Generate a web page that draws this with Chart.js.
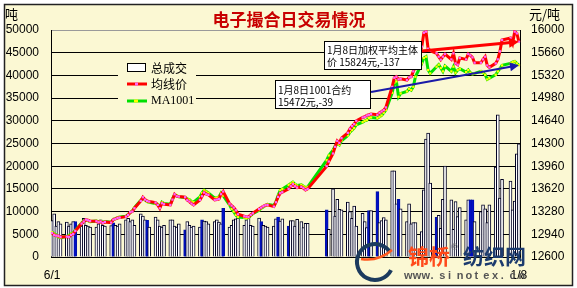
<!DOCTYPE html>
<html>
<head>
<meta charset="utf-8">
<script src="https://cdn.jsdelivr.net/npm/chart.js@4.4.0/dist/chart.umd.min.js"></script>
<style>
  html, body { margin: 0; padding: 0; background: #fff; }
  #wrap { width: 577px; height: 288px; }
</style>
</head>
<body>
<div id="wrap"><canvas id="myChart"></canvas></div>
<script>
// trading days (electronic market), 2009-06-01 .. 2010-01-08
const tradeDates = [
  "6/1","6/2","6/3","6/4","6/5","6/8","6/9","6/10","6/11","6/12","6/15","6/16","6/17","6/18","6/19","6/22","6/23","6/24","6/25","6/26","6/29","6/30",
  "7/1","7/2","7/3","7/6","7/7","7/8","7/9","7/10","7/13","7/14","7/15","7/16","7/17","7/20","7/21","7/22","7/23","7/24","7/27","7/28","7/29","7/30","7/31",
  "8/3","8/4","8/5","8/6","8/7","8/10","8/11","8/12","8/13","8/14","8/17","8/18","8/19","8/20","8/21","8/24","8/25","8/26","8/27","8/28","8/31",
  "9/1","9/2","9/3","9/4","9/7","9/8","9/9","9/10","9/11","9/14","9/15","9/16","9/17","9/18","9/21","9/22","9/23","9/24","9/25","9/27","9/28","9/29","9/30",
  "10/9","10/10","10/12","10/13","10/14","10/15","10/16","10/19","10/20","10/21","10/22","10/23","10/26","10/27","10/28","10/29","10/30",
  "11/2","11/3","11/4","11/5","11/6","11/9","11/10","11/11","11/12","11/13","11/16","11/17","11/18","11/19","11/20","11/23","11/24","11/25","11/26","11/27","11/30",
  "12/1","12/2","12/3","12/4","12/7","12/8","12/9","12/10","12/11","12/14","12/15","12/16","12/17","12/18","12/21","12/22","12/23","12/24","12/25","12/28","12/29","12/30","12/31",
  "1/4","1/5","1/6","1/7","1/8"
];

// 总成交 (吨)
const volume = [
  8000, 9500, 6800, 7800, 7300, 7700, 6800, 7300, 7800, 7800, 6800, 8500, 7000, 6800, 6600, 6600, 7300, 8200, 7000, 6800, 6900, 7500,
  7000, 6800, 7300, 8200, 8500, 7800, 8200, 7000, 9500, 9000, 8200, 8100, 6600, 8800, 8200, 6800, 6600, 7000, 8200, 8200, 6800, 6600, 7300,
  6000, 7800, 7000, 6600, 6800, 6600, 8200, 7900, 7800, 7300, 7800, 8200, 7700, 7300, 10700, 6600, 7000, 8200, 8400, 8600, 7000,
  8200, 8600, 7000, 6800, 8600, 7800, 7000, 6800, 6600, 6800, 8400, 8800, 7900, 8400, 6800, 8000, 8000, 6800, 8300, 7800, 6500, 7400, 7400,
  10400, 6100, 15000, 9000, 12700, 10500, 10400, 12100, 10000, 8500, 11200, 6800, 9600, 7800, 6500, 10200, 10200,
  14400, 7600, 8000, 8700, 8200, 19000, 19000, 11700, 12700, 10600, 7800, 11700, 7300, 7600, 7600, 5600, 14800, 26000, 27300, 16300, 8750,
  9200, 6300, 12700, 20000, 12600, 6100, 12200, 8900, 10900, 8200, 12600, 12600, 12600, 7800, 10000, 11500, 10600, 7600, 11500, 19800, 31300, 13000, 17100,
  16700, 10400, 12300, 22700, 24900
];

// 均线价 (元/吨)
const avgPrice = [
  12960, 12930, 12920, 12915, 12900, 12905, 12900, 12930, 12945, 12990, 13100, 13130, 13160, 13150, 13140, 13135, 13120, 13130, 13110, 13125, 13115, 13160,
  13170, 13185, 13190, 13205, 13230, 13270, 13280, 13330, 13440, 13495, 13460, 13440, 13430, 13415, 13380, 13330, 13405, 13390, 13380, 13460, 13540, 13510, 13505,
  13495, 13450, 13430, 13400, 13380, 13455, 13510, 13565, 13540, 13530, 13455, 13460, 13470, 13540, 13580, 13400, 13370, 13340, 13300, 13240, 13210,
  13205, 13200, 13230, 13255, 13320, 13340, 13360, 13375, 13380, 13355, 13420, 13500, 13555, 13570, 13620, 13660, 13690, 13660, 13640, 13650, 13630, 13605, 13620,
  13960, 14030, 14150, 14250, 14340, 14310, 14380, 14460, 14520, 14560, 14590, 14640, 14690, 14700, 14720, 14730, 14740,
  14730, 14760, 14780, 14800, 14840, 15150, 15285, 15300, 15260, 15270, 15250, 15290, 15300, 15380, 15450, 15750, 15960, 15975, 15720, 15690, 15650,
  15600, 15555, 15600, 15640, 15560, 15650, 15500, 15480, 15580, 15560, 15640, 15620, 15590, 15510, 15510, 15560, 15600, 15470, 15440, 15500, 15560, 15680, 15850,
  15880, 15800, 15975, 15950, 15824
];

// MA1001 (元/吨)
const ma1001 = [
  12970, 12950, 12930, 12900, 12890, 12910, 12920, 12950, 12960, 13000, 13110, 13140, 13150, 13145, 13130, 13140, 13130, 13135, 13120, 13130, 13120, 13165,
  13175, 13190, 13200, 13210, 13240, 13265, 13290, 13340, 13450, 13480, 13455, 13430, 13420, 13400, 13390, 13345, 13420, 13400, 13390, 13470, 13530, 13520, 13500,
  13490, 13470, 13460, 13430, 13420, 13500, 13560, 13600, 13580, 13560, 13480, 13490, 13500, 13560, 13520, 13380, 13320, 13280, 13230, 13200, 13190,
  13180, 13190, 13220, 13250, 13300, 13330, 13350, 13370, 13390, 13370, 13430, 13520, 13600, 13620, 13680, 13700, 13720, 13690, 13670, 13680, 13660, 13640, 13650,
  14050, 14120, 14200, 14260, 14300, 14280, 14340, 14420, 14470, 14500, 14530, 14580, 14620, 14640, 14650, 14680, 14690,
  14680, 14700, 14720, 14760, 14800, 15060, 15210, 15230, 15000, 15050, 15080, 15120, 15100, 15150, 15300, 15500, 15580, 15600, 15400, 15350, 15450,
  15480, 15430, 15380, 15460, 15380, 15450, 15360, 15400, 15420, 15370, 15400, 15360, 15340, 15350, 15380, 15360, 15330, 15260, 15280, 15330, 15380, 15420, 15470,
  15500, 15520, 15530, 15500, 15472
];

// days whose volume bar is drawn in blue
const blueDays = ["6/12","6/30","7/16","8/3","8/11","8/21","9/8","9/16","9/21","10/9","10/29","11/2","11/12","11/30","12/16","12/17"];

const leftTicks = [0, 5000, 10000, 15000, 20000, 25000, 30000, 35000, 40000, 45000, 50000];
const rightTicks = [12600, 12940, 13280, 13620, 13960, 14300, 14640, 14980, 15320, 15660, 16000];

const noteAvg = ["1月8日加权平均主体", "价 15824元,-137"];
const note1001 = ["1月8日1001合约", "15472元,-39"];

// calendar axis, one slot per day
const labels = [];
for (let d = new Date(2009, 5, 1); d <= new Date(2010, 0, 8); d.setDate(d.getDate() + 1)) {
  labels.push((d.getMonth() + 1) + "/" + d.getDate());
}
const idx = {};
tradeDates.forEach((t, i) => { idx[t] = i; });
const pick = arr => labels.map(l => (l in idx ? arr[idx[l]] : null));

const BG = "#fbf8d3";
const CJK = "'Noto Sans CJK SC', sans-serif";

Chart.defaults.font.family = "'Liberation Sans', Arial, sans-serif";
Chart.defaults.font.size = 12;
Chart.defaults.color = "#000";

function arrow(c, x1, y1, x2, y2, color, w, head) {
  const a = Math.atan2(y2 - y1, x2 - x1);
  const ca = Math.cos(a), sa = Math.sin(a);
  c.strokeStyle = color; c.fillStyle = color; c.lineWidth = w;
  c.beginPath(); c.moveTo(x1, y1); c.lineTo(x2 - ca * head * 0.8, y2 - sa * head * 0.8); c.stroke();
  c.beginPath(); c.moveTo(x2, y2);
  c.lineTo(x2 - head * ca + head * 0.5 * sa, y2 - head * sa - head * 0.5 * ca);
  c.lineTo(x2 - head * ca - head * 0.5 * sa, y2 - head * sa + head * 0.5 * ca);
  c.closePath(); c.fill();
}

const frame = {
  id: "frame",
  beforeDraw(chart) {
    const c = chart.ctx;
    c.save();
    c.fillStyle = "#fff"; c.fillRect(0, 0, chart.width, chart.height);
    c.fillStyle = BG; c.fillRect(4, 4, 568, 281);
    c.strokeStyle = "#222"; c.lineWidth = 1.5; c.strokeRect(4.5, 4.5, 568, 281);
    c.restore();
  }
};

const overlay = {
  id: "overlay",
  afterDraw(chart) {
    const c = chart.ctx;
    const sx = chart.scales.x, sy = chart.scales.y1;
    c.save();
    // title and units
    c.textBaseline = "middle";
    c.fillStyle = "#c80000"; c.font = "bold 17px " + CJK; c.textAlign = "center";
    c.fillText("电子撮合日交易情况", 289, 20);
    c.fillStyle = "#000"; c.font = "13px " + CJK; c.textAlign = "left";
    c.fillText("吨", 5, 14);
    c.fillText("元/吨", 529, 14);

    // legend
    const ds = chart.data.datasets;
    c.fillStyle = BG; c.fillRect(118, 60, 78, 48);
    c.fillStyle = "#fff"; c.fillRect(127.5, 63.5, 18, 8);
    c.strokeStyle = "#000"; c.lineWidth = 1; c.strokeRect(127.5, 63.5, 18, 8);
    c.lineWidth = 3;
    c.strokeStyle = "#ff0000"; c.beginPath(); c.moveTo(127, 84); c.lineTo(147, 84); c.stroke();
    c.fillStyle = "#ff66ee"; c.fillRect(135, 82.5, 3, 3);
    c.strokeStyle = "#00e000"; c.beginPath(); c.moveTo(127, 101); c.lineTo(147, 101); c.stroke();
    c.fillStyle = "#ffff00"; c.fillRect(134, 99.5, 4, 3);
    c.fillStyle = "#000"; c.font = "12px " + CJK;
    c.fillText(ds[0].label, 151, 68);
    c.fillText(ds[1].label, 151, 84);
    c.font = "12px 'Liberation Serif', serif";
    c.fillText(ds[2].label, 151, 101);

    // annotations
    const lastX = sx.getPixelForValue(labels.length - 1);
    const lastAvg = avgPrice[avgPrice.length - 1];
    const lastMa = ma1001[ma1001.length - 1];
    arrow(c, 422, 51, lastX, sy.getPixelForValue(lastAvg), "#ff0000", 3, 10);
    arrow(c, 371, 92, lastX, sy.getPixelForValue(lastMa), "#1a1aa8", 2, 9);

    c.font = "10px " + CJK;
    c.fillStyle = "#fff"; c.fillRect(324.5, 41.5, 97, 28);
    c.strokeStyle = "#000"; c.lineWidth = 1; c.strokeRect(324.5, 41.5, 97, 28);
    c.fillStyle = "#000";
    c.fillText(noteAvg[0], 327, 50);
    c.fillText(noteAvg[1], 327, 62);
    c.fillStyle = "#fff"; c.fillRect(275.5, 80.5, 95, 28);
    c.strokeRect(275.5, 80.5, 95, 28);
    c.fillStyle = "#000";
    c.fillText(note1001[0], 278, 90);
    c.fillText(note1001[1], 278, 102);

    // site watermark
    c.strokeStyle = "#1c3b5e"; c.lineWidth = 4;
    c.beginPath(); c.arc(375, 262, 18, 0.15 * Math.PI, 1.8 * Math.PI); c.stroke();
    c.strokeStyle = "#ff5a1f"; c.lineWidth = 2.5;
    c.beginPath(); c.moveTo(361, 259); c.quadraticCurveTo(378, 262, 392, 250); c.stroke();
    c.font = "bold 21px " + CJK;
    c.fillStyle = "#ff4a1a"; c.fillText("锦桥", 408, 256);
    c.fillStyle = "#777"; c.font = "9px sans-serif"; c.fillText("®", 451, 248);
    c.fillStyle = "#1c3b6e"; c.font = "bold 21px " + CJK; c.fillText("纺织网", 463, 256);
    c.fillStyle = "#555"; c.font = "bold 11px 'Liberation Sans', sans-serif";
    const site = "www.sinotex.cn";
    for (let i = 0; i < site.length; i++) c.fillText(site[i], 404 + i * 8.8, 276);
    c.restore();
  }
};

const myChart = new Chart(document.getElementById("myChart").getContext("2d"), {
  data: {
    labels: labels,
    datasets: [
      {
        type: "bar",
        label: "总成交",
        data: pick(volume),
        yAxisID: "y",
        order: 3,
        barThickness: 3,
        borderWidth: 1,
        backgroundColor: labels.map(l => (blueDays.includes(l) ? "#0010c8" : "#ffffff")),
        borderColor: labels.map(l => (blueDays.includes(l) ? "#0010a8" : "#000022")),
      },
      {
        type: "line",
        label: "均线价",
        data: pick(avgPrice),
        yAxisID: "y1",
        order: 1,
        spanGaps: true,
        borderColor: "#ff0000",
        borderWidth: 3,
        pointStyle: "rect",
        pointRadius: 1.6,
        pointBorderWidth: 0,
        pointBackgroundColor: "#ff66ff",
      },
      {
        type: "line",
        label: "MA1001",
        data: pick(ma1001),
        yAxisID: "y1",
        order: 2,
        spanGaps: true,
        borderColor: "#00e000",
        borderWidth: 3,
        pointStyle: "rect",
        pointRadius: 1.6,
        pointBorderWidth: 0,
        pointBackgroundColor: "#ffff00",
      },
    ],
  },
  options: {
    responsive: true,
    maintainAspectRatio: false,
    animation: false,
    layout: { padding: { top: 30, left: 0, right: 0, bottom: 0 } },
    plugins: { legend: { display: false }, tooltip: { enabled: false } },
    scales: {
      x: {
        type: "category",
        offset: true,
        grid: { display: false, drawTicks: false },
        border: { display: false },
        ticks: {
          autoSkip: false,
          maxRotation: 0,
          padding: 11,
          callback: (v, i) => (i === 0 || i === labels.length - 1 ? labels[i] : null),
        },
        afterFit: s => { s.height = 31; },
      },
      y: {
        position: "left",
        min: 0,
        max: 50000,
        afterBuildTicks: s => { s.ticks = leftTicks.map(v => ({ value: v })); },
        grid: {
          drawTicks: false,
          lineWidth: 1,
          color: ctx => (ctx.tick && ctx.tick.value === 50000 ? "#9a9a9a" : "#000"),
        },
        border: { display: true, color: "#000" },
        ticks: { padding: 12, callback: v => String(v) },
        afterFit: s => { s.width = 51; },
      },
      y1: {
        position: "right",
        min: 12600,
        max: 16000,
        afterBuildTicks: s => { s.ticks = rightTicks.map(v => ({ value: v })); },
        grid: { display: false, drawTicks: false },
        border: { display: true, color: "#000" },
        ticks: { padding: 11, callback: v => String(v) },
        afterFit: s => { s.width = 57; },
      },
    },
  },
  plugins: [frame, overlay],
});
</script>
</body>
</html>
